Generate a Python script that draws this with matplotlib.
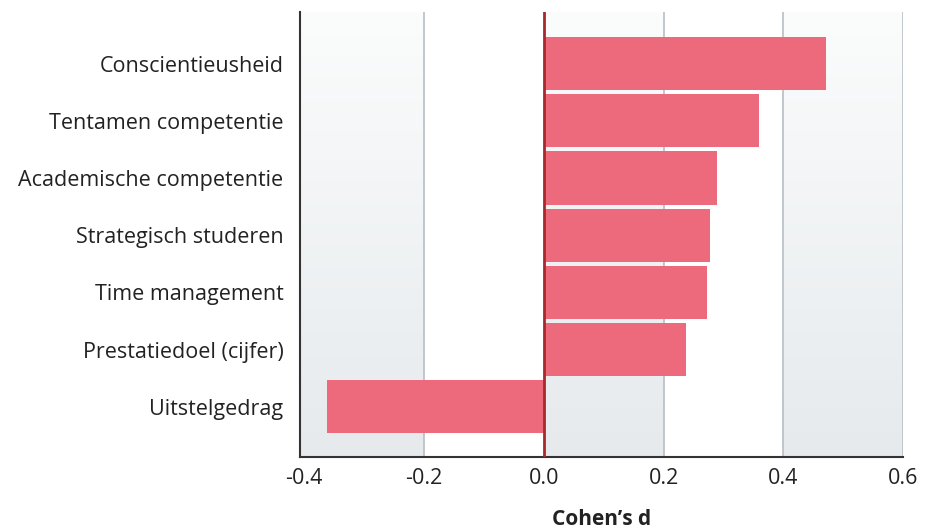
import numpy as np
import matplotlib.pyplot as plt
from matplotlib.colors import LinearSegmentedColormap

# Gegevens (Cohen's d per factor)
labels = ["Conscientieusheid", "Tentamen competentie", "Academische competentie",
          "Strategisch studeren", "Time management", "Prestatiedoel (cijfer)",
          "Uitstelgedrag"]
values = [0.472, 0.360, 0.290, 0.278, 0.272, 0.238, -0.362]
xticks = [-0.4, -0.2, 0.0, 0.2, 0.4, 0.6]

plt.rcParams['font.family'] = ['Open Sans', 'DejaVu Sans']

fig = plt.figure(figsize=(9.32, 5.31), dpi=100)
ax = fig.add_axes([0.322, 0.139, 0.647, 0.838])

ypos = np.arange(len(labels))[::-1]
ylo, yhi = -0.88, 6.9
xlo = -0.407

# achtergrondbanden met verloop
cmap = LinearSegmentedColormap.from_list("band", ["#e6eaed", "#fbfcfc"])
grad = np.linspace(0, 1, 256).reshape(-1, 1)
for x0 in [xlo, 0.0, 0.4]:
    x1 = -0.2 if x0 == xlo else x0 + 0.2
    ax.imshow(grad, extent=[x0, x1, ylo, yhi], origin='lower', cmap=cmap,
              aspect='auto', zorder=0)

for x in [-0.2, 0.2, 0.4, 0.6]:
    ax.axvline(x, color="#b7bfc5", lw=1.2, zorder=1)

ax.barh(ypos, values, height=0.93, color="#ec6a7b", zorder=2)
ax.axvline(0, color="#a8282c", lw=2, zorder=3)

ax.set_xlim(xlo, 0.6)
ax.set_ylim(ylo, yhi)
ax.set_yticks(ypos)
ax.set_yticklabels(labels, fontsize=15.5, color="#222222")
ax.set_xticks(xticks)
ax.set_xticklabels(["%.1f" % t for t in xticks], fontsize=15.5, color="#222222")
ax.tick_params(length=0)
ax.tick_params(axis='x', pad=8)
ax.tick_params(axis='y', pad=12)
ax.set_xlabel("Cohen’s d", fontsize=15, fontweight='bold', color="#222222", labelpad=14)

for s in ['top', 'right']:
    ax.spines[s].set_visible(False)
for s in ['left', 'bottom']:
    ax.spines[s].set_color("#333333")
    ax.spines[s].set_linewidth(1.5)

fig.savefig("out.png", dpi=100)
